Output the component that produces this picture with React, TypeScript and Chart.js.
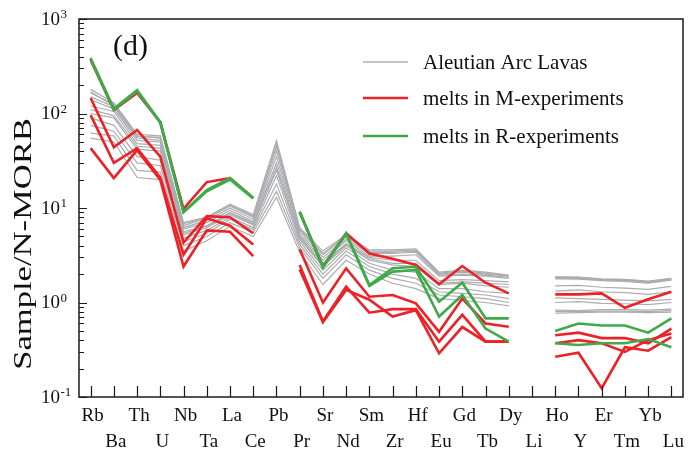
import React, { useEffect, useRef } from 'react';
import { Chart, registerables } from 'chart.js';
Chart.register(...registerables);

// ---------- DATA ----------
const elements = ['Rb','Ba','Th','U','Nb','Ta','La','Ce','Pb','Pr','Sr','Nd','Sm','Zr','Hf','Eu','Gd','Tb','Dy','Li','Ho','Y','Er','Tm','Yb','Lu'];
const yDecades = [0.1, 1, 10, 100, 1000];
const yExponents = ['-1', '0', '1', '2', '3'];
const legendLabels = ['Aleutian Arc Lavas', 'melts in M-experiments', 'melts in R-experiments'];
const panelLabel = '(d)';
const yTitle = 'Sample/N-MORB';

// Aleutian Arc lavas (gray)
const gray1  = [180,130,60,58,7.0,8.0,11.0,8.5,52,6.2,3.5,5.2,3.6,3.6,3.7,2.1,2.2,2.1,1.95,null,1.87,1.86,1.78,1.76,1.68,1.8];
const gray2  = [165,125,58,55,6.5,7.8,10.5,8.0,45,5.8,3.2,5.0,3.4,3.4,3.5,2.0,2.1,2.0,1.9,null,1.84,1.83,1.75,1.73,1.65,1.77];
const gray3  = [150,118,55,52,6.2,7.4,10.0,7.6,40,5.5,3.0,4.7,3.3,3.3,3.4,1.95,2.0,1.95,1.85,null,1.8,1.8,1.72,1.7,1.62,1.74];
const gray4  = [140,112,52,50,6.0,7.0,9.5,7.2,35,5.2,2.8,4.5,3.1,3.1,3.2,1.9,1.95,1.9,1.8,null,1.78,1.77,1.7,1.67,1.6,1.72];
const gray5  = [120,105,48,46,5.6,6.5,9.0,7.0,30,5.0,2.6,4.2,3.0,2.8,2.8,1.7,1.75,1.7,1.65,null,1.5,1.52,1.45,1.42,1.38,1.48];
const gray6  = [100,90,42,40,5.2,6.2,8.5,6.6,27,4.7,2.4,4.0,2.8,2.5,2.4,1.55,1.6,1.5,1.45,null,1.32,1.36,1.3,1.27,1.22,1.3];
const gray7  = [90,75,35,32,4.8,5.8,8.0,6.2,22,4.4,2.2,3.8,2.6,2.2,2.1,1.4,1.4,1.3,1.25,null,1.12,1.1,1.08,1.06,1.04,1.08];
const gray8  = [75,65,30,28,4.4,5.4,7.6,5.9,18,4.1,2.0,3.5,2.4,2.0,1.8,1.3,1.25,1.2,1.1,null,0.83,0.82,0.84,0.84,0.83,0.85];
const gray9  = [62,58,25,24,4.0,5.0,7.0,5.5,15,3.8,1.8,3.2,2.2,1.8,1.6,1.2,1.15,1.1,1.0,null,0.8,0.8,0.81,0.81,0.8,0.82];
const gray10 = [55,50,21,20,3.5,4.5,6.4,5.0,13,3.4,1.55,2.8,2.0,1.6,1.4,1.1,1.05,1.0,0.92,null,0.77,0.78,0.79,0.79,0.78,0.79];
const gray11 = [170,120,57,56,6.8,7.9,10.8,8.2,48,6.0,3.3,5.1,3.5,3.5,3.6,2.05,2.15,2.05,1.92,null,1.85,1.85,1.76,1.75,1.66,1.79];
const gray12 = [110,95,45,43,5.4,6.4,8.8,6.8,25,4.8,2.5,4.1,2.9,2.6,2.6,1.6,1.65,1.6,1.55,null,1.0,1.02,0.98,0.97,0.95,1.0];
const graySeries = [gray1, gray2, gray3, gray4, gray5, gray6, gray7, gray8, gray9, gray10, gray11, gray12];

// melts in M-experiments (red)
const redM1 = [368,109,165,81,9.8,18.8,20.7,12.8,null,9.1,2.4,5.4,3.3,2.9,2.5,1.56,2.43,1.62,1.25,null,1.22,1.22,1.25,0.88,1.08,1.3];
const redM2 = [146,44,67,35,4.3,8.2,8.0,5.4,null,3.66,1.0,2.3,1.15,1.2,0.98,0.49,1.1,0.6,0.555,null,0.45,0.48,0.42,0.42,0.37,0.53];
const redM3 = [96,30,43,21,3.2,7.8,6.5,4.1,null,2.49,0.63,1.47,0.78,0.85,0.85,0.385,0.74,0.385,0.385,null,0.37,0.4,0.37,0.3,0.4,0.47];
const redM4 = [43,20.7,41,19.8,2.4,5.8,5.6,3.1,null,2.23,0.62,1.36,1.07,0.71,0.83,0.29,0.55,0.385,0.385,null,0.267,0.294,0.124,0.336,0.309,0.43];
const redSeries = [redM1, redM2, redM3, redM4];

// melts in R-experiments (green)
const greenR1 = [386,112,177,81,9.1,15.5,20.7,12.8,null,9.1,2.39,5.4,1.53,2.3,2.39,1.02,1.62,0.68,0.68,null,0.5,0.6,0.57,0.57,0.48,0.68];
const greenR2 = [380,110,172,80,9.0,15.0,20.0,12.6,null,9.0,2.35,5.3,1.5,2.12,2.21,0.71,1.2,0.53,0.385,null,0.37,0.355,0.37,0.37,0.41,0.336];
const greenSeries = [greenR1, greenR2];

// ---------- STYLE ----------
const GRAY = '#abadb0';
const GRAY_LEGEND = '#c4c4c4';
const RED = '#ec2227';
const GREEN = '#40aa4a';
const SERIF = '"Liberation Serif", "Times New Roman", serif';

const decorPlugin = {
  id: 'decor',
  afterDraw(chart: any) {
    const { ctx, chartArea: a, scales } = chart;
    const x = scales.x, y = scales.y;
    ctx.save();
    // frame
    ctx.strokeStyle = '#1a1a1a';
    ctx.lineWidth = 1.5;
    ctx.strokeRect(a.left, a.top, a.right - a.left, a.bottom - a.top);
    // y ticks (inward)
    ctx.lineWidth = 1.2;
    ctx.beginPath();
    for (let d = 0; d < yDecades.length; d++) {
      const base = yDecades[d];
      const py = Math.round(y.getPixelForValue(base)) + 0.5;
      ctx.moveTo(a.left, py); ctx.lineTo(a.left + 8, py);
      if (d < yDecades.length - 1) {
        for (let k = 2; k <= 9; k++) {
          const p = Math.round(y.getPixelForValue(base * k)) + 0.5;
          ctx.moveTo(a.left, p); ctx.lineTo(a.left + 5, p);
        }
      }
    }
    // x ticks (inward)
    for (let i = 0; i < elements.length; i++) {
      const px = Math.round(x.getPixelForValue(i)) + 0.5;
      ctx.moveTo(px, a.bottom); ctx.lineTo(px, a.bottom - 11);
    }
    ctx.stroke();

    // y labels
    ctx.fillStyle = '#111';
    for (let d = 0; d < yDecades.length; d++) {
      const py = y.getPixelForValue(yDecades[d]);
      ctx.font = `19px ${SERIF}`;
      ctx.textAlign = 'right';
      ctx.textBaseline = 'middle';
      ctx.fillText('10', 60, py + 1);
      ctx.font = `13px ${SERIF}`;
      ctx.textAlign = 'left';
      ctx.textBaseline = 'alphabetic';
      ctx.fillText(yExponents[d], 60.5, py - 1);
    }
    // x labels, two staggered rows
    ctx.font = `19px ${SERIF}`;
    ctx.textAlign = 'center';
    ctx.textBaseline = 'middle';
    for (let i = 0; i < elements.length; i++) {
      const px = x.getPixelForValue(i);
      ctx.fillText(elements[i], px + 2, i % 2 === 0 ? 416 : 442);
    }
    // y title (stretched along its length as in the original)
    ctx.save();
    ctx.translate(24, 244);
    ctx.rotate(-Math.PI / 2);
    ctx.scale(1.33, 1);
    ctx.font = `26px ${SERIF}`;
    ctx.textAlign = 'center';
    ctx.textBaseline = 'middle';
    ctx.fillText(yTitle, 0, 0);
    ctx.restore();

    // panel label
    ctx.font = `30px ${SERIF}`;
    ctx.textAlign = 'left';
    ctx.textBaseline = 'middle';
    ctx.fillText(panelLabel, 113, 47);

    // legend
    const legendColors = [GRAY_LEGEND, RED, GREEN];
    const legendY = [62, 98, 136];
    ctx.font = `21px ${SERIF}`;
    for (let i = 0; i < 3; i++) {
      ctx.strokeStyle = legendColors[i];
      ctx.lineWidth = i === 0 ? 2 : 2.5;
      ctx.beginPath();
      ctx.moveTo(363, legendY[i]); ctx.lineTo(408, legendY[i]);
      ctx.stroke();
      ctx.fillStyle = '#111';
      ctx.textBaseline = 'middle';
      ctx.fillText(legendLabels[i], 423, legendY[i] + 1);
    }
    ctx.restore();
  },
};

export default function App() {
  const ref = useRef<HTMLCanvasElement | null>(null);
  useEffect(() => {
    document.body.style.margin = '0';
    const canvas = ref.current;
    if (!canvas) return;
    const datasets: any[] = [];
    graySeries.forEach((s, i) => datasets.push({ label: legendLabels[0] + ' ' + (i + 1), data: s, borderColor: GRAY, borderWidth: 1.2, order: 3 }));
    redSeries.forEach((s, i) => datasets.push({ label: legendLabels[1] + ' ' + (i + 1), data: s, borderColor: RED, borderWidth: 2.6, order: 2 }));
    greenSeries.forEach((s, i) => datasets.push({ label: legendLabels[2] + ' ' + (i + 1), data: s, borderColor: GREEN, borderWidth: 2.6, order: 1 }));
    const chart = new Chart(canvas, {
      type: 'line',
      data: { labels: elements, datasets },
      options: {
        responsive: false,
        animation: false,
        layout: { padding: { top: 19, right: 6, left: 0, bottom: 0 } },
        plugins: { legend: { display: false }, tooltip: { enabled: false } },
        elements: { point: { radius: 0 }, line: { tension: 0, borderJoinStyle: 'miter' } },
        spanGaps: false,
        scales: {
          x: {
            type: 'category', offset: true,
            grid: { display: false, drawTicks: false }, border: { display: false },
            ticks: { display: false },
            afterFit: (s: any) => { s.height = 58; },
          },
          y: {
            type: 'logarithmic', min: 0.1, max: 1000,
            grid: { display: false, drawTicks: false }, border: { display: false },
            ticks: { display: false },
            afterFit: (s: any) => { s.width = 79; },
          },
        },
      } as any,
      plugins: [decorPlugin],
    });
    return () => chart.destroy();
  }, []);
  return (
    <div style={{ width: 689, height: 455, background: '#fff' }}>
      <canvas ref={ref} width={689} height={455} style={{ display: 'block', width: 689, height: 455 }} />
    </div>
  );
}
